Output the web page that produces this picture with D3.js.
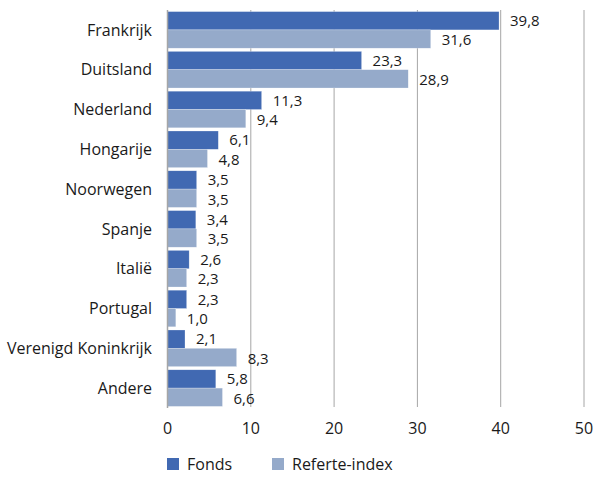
<!DOCTYPE html>
<html><head><meta charset="utf-8">
<script src="https://cdn.jsdelivr.net/npm/d3@7"></script>
<style>body{margin:0;background:#fff}svg{display:block}</style>
</head><body>
<svg id="c" width="596" height="477"></svg>
<script>
const categories = ["Frankrijk","Duitsland","Nederland","Hongarije","Noorwegen","Spanje","Italië","Portugal","Verenigd Koninkrijk","Andere"];
const fonds = [39.8,23.3,11.3,6.1,3.5,3.4,2.6,2.3,2.1,5.8];
const referte = [31.6,28.9,9.4,4.8,3.5,3.5,2.3,1.0,8.3,6.6];
const seriesNames = ["Fonds","Referte-index"];
const tickValues = [0,10,20,30,40,50];

const colors = ["#4169B2","#95AACA"];
const font = "'Open Sans', sans-serif";
const fs = 16;
const svg = d3.select("#c");
const x = d3.scaleLinear().domain([0,50]).range([167.5,584]);
const y = d3.scaleBand().domain(categories).range([10,408]).paddingInner(0.08).paddingOuter(0.04);
const sub = d3.scaleBand().domain(seriesNames).range([0,y.bandwidth()]);

// gridlines
svg.append("g").selectAll("line").data(tickValues.slice(1)).join("line")
  .attr("x1",d=>x(d)).attr("x2",d=>x(d)).attr("y1",10).attr("y2",407)
  .attr("stroke","#A6A6A6").attr("stroke-width",1);

const data = categories.map((c,i)=>({c, vals:[fonds[i],referte[i]]}));
const g = svg.append("g");
data.forEach(d=>{
  d.vals.forEach((v,j)=>{
    const yy = y(d.c)+sub(seriesNames[j]);
    g.append("rect").attr("x",x(0)).attr("y",yy).attr("width",x(v)-x(0)).attr("height",sub.bandwidth())
      .attr("fill",colors[j]).attr("stroke","#ffffff").attr("stroke-opacity",0.5).attr("stroke-width",0.5);
    g.append("text").attr("x",x(v)+11).attr("y",yy+sub.bandwidth()/2+ (j?1:0)).attr("dy","0.35em")
      .attr("font-family",font).attr("font-size",15).attr("fill","#1a1a1a")
      .text(d3.format(".1f")(v).replace(".",","));
  });
});

// left axis line
svg.append("line").attr("x1",x(0)).attr("x2",x(0)).attr("y1",10).attr("y2",408)
  .attr("stroke","#A6A6A6").attr("stroke-width",1.5);

// category labels
svg.append("g").selectAll("text").data(categories).join("text")
  .attr("x",152).attr("y",d=>y(d)+y.bandwidth()/2).attr("dy","0.35em").attr("text-anchor","end")
  .attr("font-family",font).attr("font-size",fs).attr("fill","#1a1a1a").text(d=>d);

// x tick labels
svg.append("g").selectAll("text").data(tickValues).join("text")
  .attr("x",d=>x(d)).attr("y",428).attr("dy","0.35em").attr("text-anchor","middle")
  .attr("font-family",font).attr("font-size",fs).attr("fill","#1a1a1a").text(d=>d);

// legend
const legX = [167,272];
seriesNames.forEach((n,i)=>{
  svg.append("rect").attr("x",legX[i]).attr("y",458).attr("width",12).attr("height",12).attr("fill",colors[i]);
  svg.append("text").attr("x",legX[i]+20).attr("y",464).attr("dy","0.35em")
    .attr("font-family",font).attr("font-size",fs).attr("fill","#1a1a1a").text(n);
});
</script>
</body></html>
